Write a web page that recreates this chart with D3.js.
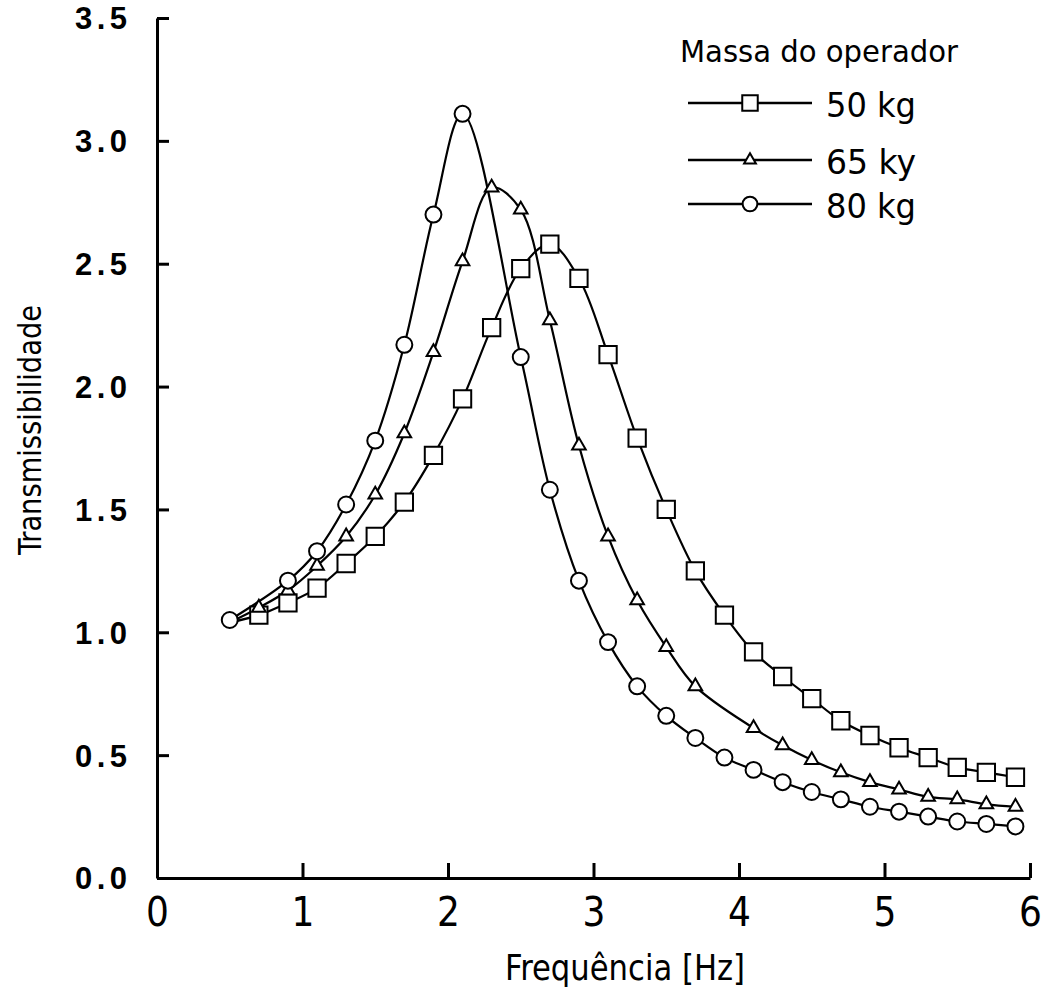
<!DOCTYPE html>
<html lang="pt">
<head>
    <meta charset="UTF-8">
    <title>Transmissibilidade vs Frequência</title>
    <script src="https://d3js.org/d3.v7.min.js"></script>
    <style>
        body { margin: 0; background: #fff; }
        .curve { fill: none; stroke: #000; stroke-width: 2.2; }
        .mark { fill: #fff; stroke: #000; stroke-width: 2; }
        .axis path, .axis line { stroke: #000; stroke-width: 3; }
        .narrow { font-family: "Liberation Sans Narrow", "DejaVu Sans Condensed", "Liberation Sans", sans-serif; }
    </style>
</head>
<body>
    <svg width="1045" height="993"></svg>
    <script>
        // values
        const freq50 = [0.5,0.7,0.9,1.1,1.3,1.5,1.7,1.9,2.1,2.3,2.5,2.7,2.9,3.1,3.3,3.5,3.7,3.9,4.1,4.3,4.5,4.7,4.9,5.1,5.3,5.5,5.7,5.9];
        const trans50 = [1.04,1.07,1.12,1.18,1.28,1.39,1.53,1.72,1.95,2.24,2.48,2.58,2.44,2.13,1.79,1.50,1.25,1.07,0.92,0.82,0.73,0.64,0.58,0.53,0.49,0.45,0.43,0.41];

        const freq65 = [0.5,0.7,0.9,1.1,1.3,1.5,1.7,1.9,2.1,2.3,2.5,2.7,2.9,3.1,3.3,3.5,3.7,4.1,4.3,4.5,4.7,4.9,5.1,5.3,5.5,5.7,5.9];
        const trans65 = [1.04,1.10,1.17,1.27,1.39,1.56,1.81,2.14,2.51,2.81,2.72,2.27,1.76,1.39,1.13,0.94,0.78,0.61,0.54,0.48,0.43,0.39,0.36,0.33,0.32,0.30,0.29];

        const freq80 = [0.5,0.9,1.1,1.3,1.5,1.7,1.9,2.1,2.5,2.7,2.9,3.1,3.3,3.5,3.7,3.9,4.1,4.3,4.5,4.7,4.9,5.1,5.3,5.5,5.7,5.9];
        const trans80 = [1.05,1.21,1.33,1.52,1.78,2.17,2.70,3.11,2.12,1.58,1.21,0.96,0.78,0.66,0.57,0.49,0.44,0.39,0.35,0.32,0.29,0.27,0.25,0.23,0.22,0.21];

        const seriesLabels = ["50 kg", "65 ky", "80 kg"];
        const xTicks = [0, 1, 2, 3, 4, 5, 6];
        const yTicks = [0, 0.5, 1, 1.5, 2, 2.5, 3, 3.5];

        const svg = d3.select("svg");
        const x = d3.scaleLinear().domain([0, 6]).range([157, 1030]);
        const y = d3.scaleLinear().domain([0, 3.5]).range([878, 18]);

        const series = [
            { name: seriesLabels[0], shape: d3.symbolSquare, size: 300, pts: freq50.map((f, i) => ({ f, t: trans50[i] })) },
            { name: seriesLabels[1], shape: d3.symbolTriangle, size: 80, pts: freq65.map((f, i) => ({ f, t: trans65[i] })) },
            { name: seriesLabels[2], shape: d3.symbolCircle, size: 200, pts: freq80.map((f, i) => ({ f, t: trans80[i] })) }
        ];

        // axes
        const xAxis = svg.append("g").attr("class", "axis")
            .attr("transform", `translate(0,${y(0)})`)
            .call(d3.axisBottom(x).tickValues(xTicks).tickFormat(d3.format("d"))
                .tickSizeInner(-15).tickSizeOuter(0).tickPadding(20));
        xAxis.selectAll("text")
            .attr("class", "narrow")
            .style("font-size", "40px")
            .attr("fill", "#000");

        const yAxis = svg.append("g").attr("class", "axis")
            .attr("transform", `translate(${x(0)},0)`)
            .call(d3.axisLeft(y).tickValues(yTicks).tickSizeInner(-12).tickSizeOuter(0)
                .tickPadding(30).tickFormat(d3.format(".1f")));
        yAxis.selectAll("text")
            .style("font-family", "'Liberation Sans', Arial, sans-serif")
            .style("font-size", "31px")
            .style("font-weight", "bold")
            .attr("textLength", 52).attr("lengthAdjust", "spacing")
            .attr("dy", "0.35em")
            .attr("fill", "#000");

        // axis titles
        svg.append("text").attr("class", "narrow")
            .attr("x", 625).attr("y", 980)
            .attr("text-anchor", "middle")
            .attr("textLength", 240).attr("lengthAdjust", "spacingAndGlyphs")
            .style("font-size", "36px")
            .text("Frequência  [Hz]");

        svg.append("text").attr("class", "narrow")
            .attr("transform", "translate(41,430) rotate(-90)")
            .attr("text-anchor", "middle")
            .attr("textLength", 250).attr("lengthAdjust", "spacingAndGlyphs")
            .style("font-size", "32px")
            .text("Transmissibilidade");

        // curves
        const line = d3.line().x(d => x(d.f)).y(d => y(d.t)).curve(d3.curveCatmullRom.alpha(0.5));

        series.forEach(s => {
            svg.append("path").attr("class", "curve").attr("d", line(s.pts));
        });

        // markers drawn after all curves; shared start point only gets a circle
        series.forEach((s, k) => {
            const sym = d3.symbol().type(s.shape).size(s.size);
            svg.selectAll(".m" + k)
                .data(k === 2 ? s.pts : s.pts.slice(1))
                .enter().append("path")
                .attr("class", "mark m" + k)
                .attr("d", sym)
                .attr("transform", d => `translate(${x(d.f)},${y(d.t)})`);
        });

        // legend
        const legend = svg.append("g");
        legend.append("text").attr("class", "narrow")
            .attr("x", 680).attr("y", 62)
            .attr("textLength", 278).attr("lengthAdjust", "spacingAndGlyphs")
            .style("font-size", "30px")
            .text("Massa do operador");

        const legendY = [103, 160, 204];
        const legendSize = [240, 60, 170];
        series.forEach((s, k) => {
            const ly = legendY[k];
            legend.append("line")
                .attr("x1", 688).attr("x2", 812)
                .attr("y1", ly).attr("y2", ly)
                .attr("stroke", "#000").attr("stroke-width", 2.5);
            legend.append("path").attr("class", "mark")
                .attr("d", d3.symbol().type(s.shape).size(legendSize[k]))
                .attr("transform", `translate(750,${ly})`);
            legend.append("text").attr("class", "narrow")
                .attr("x", 826).attr("y", ly + 14)
                .attr("textLength", 90).attr("lengthAdjust", "spacingAndGlyphs")
                .style("font-size", "34px")
                .text(s.name);
        });
    </script>
</body>
</html>
